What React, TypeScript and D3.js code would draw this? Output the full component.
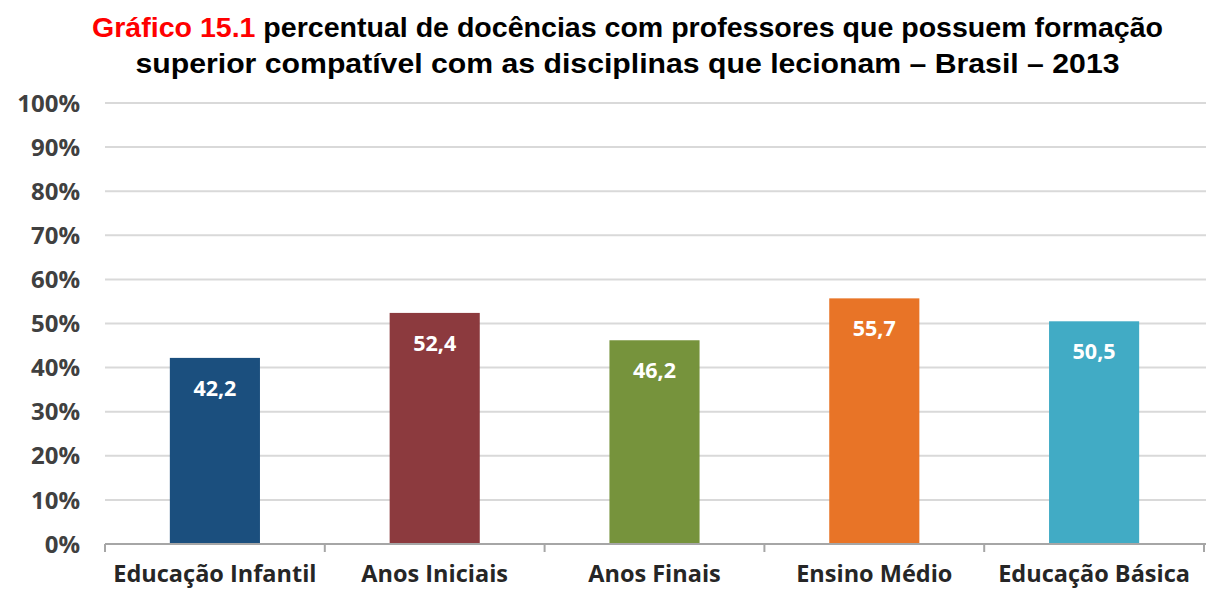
import React from "react";
import * as d3 from "d3";

const categories = ["Educação Infantil", "Anos Iniciais", "Anos Finais", "Ensino Médio", "Educação Básica"];
const values = [42.2, 52.4, 46.2, 55.7, 50.5];
const valueLabels = ["42,2", "52,4", "46,2", "55,7", "50,5"];
const colors = ["#1B4F7E", "#8C3A3E", "#76933C", "#E87427", "#41ABC5"];
const yTicks = [0, 10, 20, 30, 40, 50, 60, 70, 80, 90, 100];

const W = 1206;
const H = 589;
const left = 105;
const right = 1204;
const top = 103;
const bottom = 544;

export default function App() {
  const x = d3.scaleBand<string>().domain(categories).range([left, right]).paddingInner(0).paddingOuter(0);
  const y = d3.scaleLinear().domain([0, 100]).range([bottom, top]);
  const bw = x.bandwidth() * 0.41;
  const boundaries = categories.map((c) => x(c) as number).concat([right]);
  const labelFont = "'Open Sans', sans-serif";

  return (
    <svg width={W} height={H} style={{ position: "absolute", left: 0, top: 0, background: "#fff" }}>
      <text x={627.5} y={37} textAnchor="middle" textLength={1071} lengthAdjust="spacingAndGlyphs" fontFamily="'Liberation Sans', Arial, sans-serif" fontWeight="bold" fontSize={27} fill="#000">
        <tspan fill="#FF0000">Gráfico 15.1</tspan> percentual de docências com professores que possuem formação
      </text>
      <text x={627.5} y={73} textAnchor="middle" textLength={984} lengthAdjust="spacingAndGlyphs" fontFamily="'Liberation Sans', Arial, sans-serif" fontWeight="bold" fontSize={27} fill="#000">
        superior compatível com as disciplinas que lecionam – Brasil – 2013
      </text>

      {yTicks.map((t) => (
        <g key={t}>
          {t > 0 && <line x1={left} x2={right + 2} y1={y(t)} y2={y(t)} stroke="#D9D9D9" strokeWidth={2} />}
          <text x={80} y={y(t)} dy="0.36em" textAnchor="end" fontFamily={labelFont} fontWeight="bold" fontSize={24} fill="#404040">
            {t}%
          </text>
        </g>
      ))}

      {categories.map((c, i) => {
        const cx = (x(c) as number) + x.bandwidth() / 2;
        return (
          <g key={c}>
            <rect x={cx - bw / 2} y={y(values[i])} width={bw} height={y(0) - y(values[i])} fill={colors[i]} />
            <text x={cx} y={y(values[i]) + 38} textAnchor="middle" fontFamily={labelFont} fontWeight="bold" fontSize={21.5} fill="#fff">
              {valueLabels[i]}
            </text>
            <text x={cx} y={582} textAnchor="middle" fontFamily={labelFont} fontWeight="bold" fontSize={23.5} fill="#262626">
              {c}
            </text>
          </g>
        );
      })}

      <line x1={left} x2={right + 2} y1={bottom} y2={bottom} stroke="#A6A6A6" strokeWidth={2} />
      {boundaries.map((b, i) => (
        <line key={i} x1={b} x2={b} y1={bottom} y2={bottom + 8} stroke="#A6A6A6" strokeWidth={2} />
      ))}
    </svg>
  );
}
